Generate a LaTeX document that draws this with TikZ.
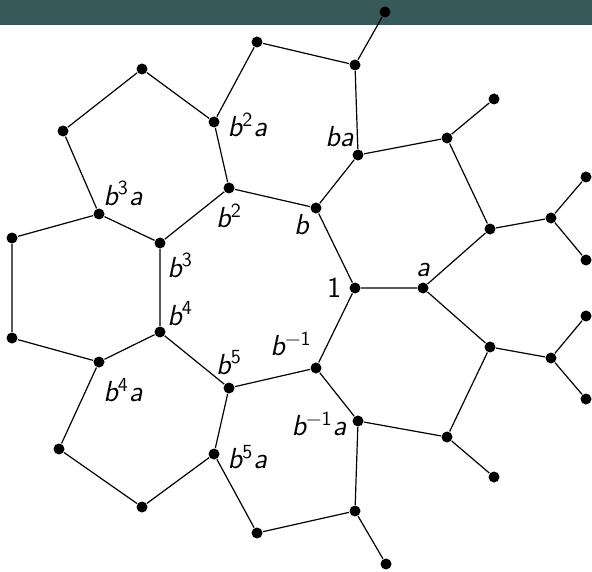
\documentclass[tikz,border=0pt]{standalone}
\usepackage{tikz}
\usetikzlibrary{positioning}
\definecolor{barteal}{RGB}{55,89,89}
\newcommand{\gx}[1]{{\itshape #1}}
\newcommand{\gs}[1]{\textsuperscript{\fontsize{10}{12}\selectfont #1}}

\begin{document}
\begin{tikzpicture}[x=0.5pt, y=-0.5pt, line width=0.6pt,
  dot/.style={circle,fill,inner sep=0pt,minimum size=5.5pt},
  lbl/.style={inner sep=1pt,font=\sffamily\fontsize{14.5}{16}\selectfont}]
\useasboundingbox (0,0) rectangle (592,571);
\fill[barteal] (0,0) rectangle (592,25);
% central heptagon
\node[dot] (e) at (355,288) {};
\node[dot] (b) at (316,208) {};
\node[dot] (b2) at (229,188) {};
\node[dot] (b3) at (160,243) {};
\node[dot] (b4) at (160,332) {};
\node[dot] (b5) at (229,388) {};
\node[dot] (bi) at (316,368) {};
% a-neighbours
\node[dot] (a) at (423,288) {};
\node[dot] (ba) at (358,155) {};
\node[dot] (b2a) at (214,122) {};
\node[dot] (b3a) at (99,214) {};
\node[dot] (b4a) at (99,362) {};
\node[dot] (b5a) at (214,454) {};
\node[dot] (bia) at (358,421) {};
% outer vertices
\node[dot] (u1) at (142,69) {};
\node[dot] (u2) at (63,131) {};
\node[dot] (u3) at (12,238) {};
\node[dot] (u4) at (12,338) {};
\node[dot] (u5) at (59,449) {};
\node[dot] (u6) at (142,507) {};
\node[dot] (u7) at (257,533) {};
\node[dot] (u8) at (355,511) {};
\node[dot] (u9) at (447,437) {};
\node[dot] (u10) at (490,347) {};
\node[dot] (u11) at (551,358) {};
\node[dot] (u12) at (490,229) {};
\node[dot] (u13) at (447,138) {};
\node[dot] (u14) at (551,218) {};
\node[dot] (u15) at (355,65) {};
\node[dot] (u16) at (257,42) {};
% leaves
\node[dot] (w1) at (386,564) {};
\node[dot] (w2) at (494,477) {};
\node[dot] (w3) at (586,316) {};
\node[dot] (w4) at (586,399) {};
\node[dot] (w5) at (494,99) {};
\node[dot] (w6) at (586,177) {};
\node[dot] (w7) at (586,260) {};
\node[dot] (w8) at (385,12) {};

\draw (e) -- (b) -- (b2) -- (b3) -- (b4) -- (b5) -- (bi) -- (e);
\draw (e) -- (a) (b) -- (ba) (b2) -- (b2a) (b3) -- (b3a) (b4) -- (b4a) (b5) -- (b5a) (bi) -- (bia);
\draw (b2a) -- (u1) -- (u2) -- (b3a);
\draw (b3a) -- (u3) -- (u4) -- (b4a);
\draw (b4a) -- (u5) -- (u6) -- (b5a);
\draw (b5a) -- (u7) -- (u8) -- (bia);
\draw (bia) -- (u9) -- (u10) -- (a);
\draw (a) -- (u12) -- (u13) -- (ba);
\draw (ba) -- (u15) -- (u16) -- (b2a);
\draw (u8) -- (w1) (u9) -- (w2) (u10) -- (u11) -- (w3) (u11) -- (w4);
\draw (u12) -- (u14) -- (w6) (u14) -- (w7) (u13) -- (w5) (u15) -- (w8);

\node[lbl, left=2.5pt of e] (t-e) {1};
\node[lbl, above=1.5pt of a] (t-a) {\gx{a}};
\node[lbl, below left=-0.25pt and 0.25pt of b] (t-b) {\gx{b}};
\node[lbl, above left=0.75pt and -1.25pt of ba] (t-ba) {\gx{ba}};
\node[lbl, below=3.5pt of b2] (t-b2) {\gx{b}\gs{2}};
\node[lbl, right=2.5pt of b2a, yshift=-1.5pt] (t-b2a) {\gx{b}\gs{2}\gx{a}};
\node[lbl, below right=1.75pt and 0.25pt of b3] (t-b3) {\gx{b}\gs{3}};
\node[lbl, above right=0.75pt and -1.25pt of b3a] (t-b3a) {\gx{b}\gs{3}\gx{a}};
\node[lbl, above right=-0.25pt and 0.25pt of b4] (t-b4) {\gx{b}\gs{4}};
\node[lbl, below right=4.75pt and -1.25pt of b4a] (t-b4a) {\gx{b}\gs{4}\gx{a}};
\node[lbl, above=2.5pt of b5] (t-b5) {\gx{b}\gs{5}};
\node[lbl, right=2.5pt of b5a, yshift=-1.5pt] (t-b5a) {\gx{b}\gs{5}\gx{a}};
\node[lbl, above left=2.5pt and -1.25pt of bi] (t-bi) {\gx{b}\gs{−1}};
\node[lbl, left=1.5pt of bia, yshift=-1.5pt] (t-bia) {\gx{b}\gs{−1}\gx{a}};
\end{tikzpicture}
\end{document}
